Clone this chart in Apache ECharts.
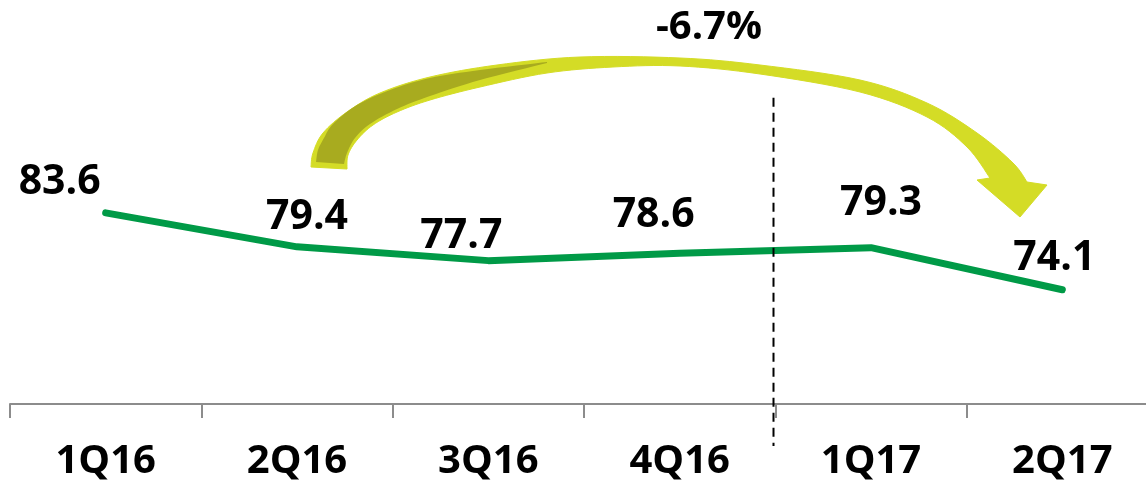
<!DOCTYPE html>
<html>
<head>
<meta charset="utf-8">
<script src="https://cdn.jsdelivr.net/npm/echarts@6/dist/echarts.min.js"></script>
<style>
  html, body { margin: 0; padding: 0; background: #fff; }
  #chart { width: 1146px; height: 489px; }
</style>
</head>
<body>
<div id="chart"></div>
<script>
// Quarterly values
const categories = ['1Q16', '2Q16', '3Q16', '4Q16', '1Q17', '2Q17'];
const values = [83.6, 79.4, 77.7, 78.6, 79.3, 74.1];
const changeLabel = '-6.7%';

// Label placement relative to each point
const labelOffsets = [[-46, -31], [10, -30], [-27, -24], [-26, -38], [10, -44], [-8, -31]];

const FONT = 'Open Sans';
const LINE_GREEN = '#009a47';
const ARROW_LIME = '#d4dc26';
const ARROW_OLIVE = '#a8ab1f';

const chart = echarts.init(document.getElementById('chart'), null, { renderer: 'canvas' });

chart.setOption({
  animation: false,
  backgroundColor: '#ffffff',
  grid: { left: 10, width: 1148, top: 80, bottom: 85, containLabel: false, outerBoundsMode: 'none' },
  xAxis: {
    type: 'category',
    data: categories,
    boundaryGap: true,
    axisLine: { lineStyle: { color: '#8c8c8c', width: 2 } },
    axisTick: { show: true, length: 14, lineStyle: { color: '#8c8c8c', width: 2 } },
    axisLabel: {
      color: '#000', fontFamily: FONT, fontWeight: 'bold', fontSize: 40,
      lineHeight: 40, margin: 38
    }
  },
  yAxis: { type: 'value', min: 60, max: 100, show: false },
  series: [{
    type: 'line',
    data: values.map((v, i) => ({ value: v, label: { offset: labelOffsets[i] } })),
    symbol: 'circle',
    symbolSize: 2,
    itemStyle: { color: LINE_GREEN },
    lineStyle: { color: LINE_GREEN, width: 7, cap: 'round', join: 'round' },
    label: {
      show: true, position: 'inside', align: 'center', verticalAlign: 'middle',
      color: '#000', fontFamily: FONT, fontWeight: 'bold', fontSize: 41
    }
  }]
});

// Catmull-Rom sampling for smooth outlines
function sampleSpline(pts, steps) {
  const out = [];
  const n = pts.length;
  for (let i = 0; i < n - 1; i++) {
    const p0 = pts[Math.max(i - 1, 0)], p1 = pts[i], p2 = pts[i + 1], p3 = pts[Math.min(i + 2, n - 1)];
    const c1 = [p1[0] + (p2[0] - p0[0]) / 6, p1[1] + (p2[1] - p0[1]) / 6];
    const c2 = [p2[0] - (p3[0] - p1[0]) / 6, p2[1] - (p3[1] - p1[1]) / 6];
    for (let s = 0; s < steps; s++) {
      const t = s / steps, u = 1 - t;
      out.push([
        u * u * u * p1[0] + 3 * u * u * t * c1[0] + 3 * u * t * t * c2[0] + t * t * t * p2[0],
        u * u * u * p1[1] + 3 * u * u * t * c1[1] + 3 * u * t * t * c2[1] + t * t * t * p2[1]
      ]);
    }
  }
  out.push(pts[n - 1]);
  return out;
}

// Curved change arrow: outer edge, head, inner edge
const arrowOuter = [[311,167],[313,153],[323,133],[347,112],[380,93],[430,77],[497,65],[580,57],[680,58],[760,65],[860,80],[927,103],[977,133],[1013,163],[1027,182]];
const arrowHead = [[1047,185],[1020,217],[977,180]];
const arrowInner = [[990,178],[967,147],[927,117],[860,92],[760,74],[680,66],[613,67],[547,73],[480,87],[430,100],[397,112],[373,125],[357,140],[348,155],[347,169]];
const underUpper = [[316,162],[318,150],[324,138],[333,124],[357,105],[390,90],[430,78],[480,70],[547,62]];
const underLower = [[547,63],[480,80],[430,96],[397,109],[370,124],[355,138],[347,153],[344,164]];

const ribbon = sampleSpline(arrowOuter, 8).concat(arrowHead, sampleSpline(arrowInner, 8));
const underside = sampleSpline(underUpper, 8).concat(sampleSpline(underLower, 8));

// Divider between 2016 and 2017
const x3 = chart.convertToPixel({ xAxisIndex: 0 }, categories[3]);
const x4 = chart.convertToPixel({ xAxisIndex: 0 }, categories[4]);
const xDiv = Math.round((x3 + x4) / 2) - 2 + 0.5;
const yTop = chart.convertToPixel({ yAxisIndex: 0 }, 97.8);
const yAxisLine = chart.convertToPixel({ yAxisIndex: 0 }, 60);

chart.setOption({
  graphic: [
    {
      type: 'line', z: 5,
      shape: { x1: xDiv, y1: yTop, x2: xDiv, y2: yAxisLine + 42 },
      style: { stroke: '#000', lineWidth: 2, lineDash: [9, 6] }
    },
    {
      type: 'polygon', z: 10,
      shape: { points: ribbon },
      style: { fill: ARROW_LIME, stroke: ARROW_LIME, lineWidth: 1 }
    },
    {
      type: 'polygon', z: 11,
      shape: { points: underside },
      style: { fill: ARROW_OLIVE }
    },
    {
      type: 'text', z: 12,
      x: 709, y: 28,
      style: {
        text: changeLabel, fill: '#000', font: 'bold 40px "Open Sans"',
        align: 'center', verticalAlign: 'middle'
      }
    }
  ]
});
</script>
</body>
</html>
